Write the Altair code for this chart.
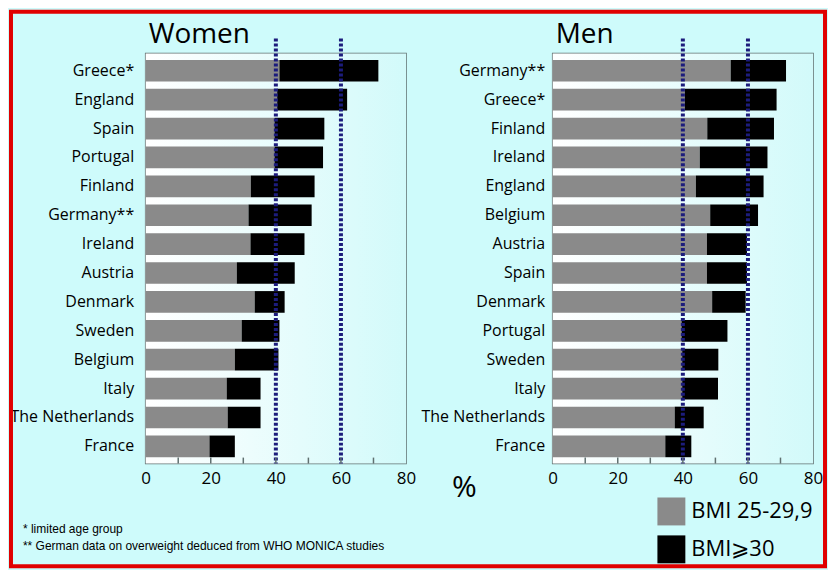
import altair as alt
import pandas as pd

# ---- data ----
countries_w = ["Greece*", "England", "Spain", "Portugal", "Finland", "Germany**", "Ireland",
               "Austria", "Denmark", "Sweden", "Belgium", "Italy", "The Netherlands", "France"]
bmi25_w = [41.1, 40.4, 39.6, 39.6, 32.3, 31.6, 32.2, 28.0, 33.5, 29.5, 27.4, 24.9, 25.2, 19.6]
total_w = [71.5, 61.9, 54.9, 54.5, 51.9, 51.0, 48.8, 45.8, 42.7, 41.1, 40.8, 35.3, 35.3, 27.4]

countries_m = ["Germany**", "Greece*", "Finland", "Ireland", "England", "Belgium", "Austria",
               "Spain", "Denmark", "Portugal", "Sweden", "Italy", "The Netherlands", "France"]
bmi25_m = [54.7, 40.6, 47.5, 45.2, 44.0, 48.4, 47.4, 47.4, 49.0, 39.6, 39.8, 39.8, 37.5, 34.6]
total_m = [71.7, 68.8, 68.0, 66.0, 64.8, 63.1, 59.7, 59.7, 59.3, 53.7, 50.9, 50.8, 46.4, 42.6]

categories = ["BMI 25-29,9", "BMI\u2a7e30"]
colors = ["#8a8a8a", "#000000"]
ref_lines = [40, 60]
minor_ticks = [10, 20, 30, 40, 50, 60, 70]
axis_values = [0, 20, 40, 60, 80]
titles = ["Women", "Men"]
pct_label = "%"
footnotes = ["* limited age group",
             "** German data on overweight deduced from WHO MONICA studies"]

FONT = "Open Sans"
W, H = 261, 411
FRAME = "#607070"

plot_fill = alt.Gradient(gradient="linear",
                         stops=[alt.GradientStop(offset=0, color="#ffffff"),
                                alt.GradientStop(offset=1, color="#d2fafa")],
                         x1=0, x2=1, y1=0, y2=0)


def long_table(countries, g, t):
    rows = []
    for c, a, b in zip(countries, g, t):
        rows.append({"country": c, "cat": categories[0], "value": a, "order": 0})
        rows.append({"country": c, "cat": categories[1], "value": round(b - a, 1), "order": 1})
    return pd.DataFrame(rows)


def text_layer(txt, x, y, size, font, align="left"):
    return alt.Chart(pd.DataFrame({"t": [txt]})).mark_text(
        align=align, baseline="alphabetic", fontSize=size, font=font, color="black"
    ).encode(text="t:N", x=alt.value(x), y=alt.value(y))


def panel(df, countries, title, label_pad, women):
    xscale = alt.Scale(domain=[0, 80], nice=False, zero=True)
    xaxis = alt.Axis(values=axis_values, ticks=False, domain=False, grid=False,
                     labelFontSize=17, labelFont=FONT, labelColor="black", labelPadding=7,
                     labelFlush=False,
                     title=pct_label if women else "",
                     titleFontSize=30, titleFont=FONT, titleFontWeight="normal",
                     titleColor="black", titleX=319, titleY=24,
                     titleAlign="center", titleBaseline="middle")
    bg = alt.Chart(pd.DataFrame({"a": [0]})).mark_rect(color=plot_fill).encode(
        x=alt.value(0), x2=alt.value(W), y=alt.value(0), y2=alt.value(H))
    bars = alt.Chart(df).mark_bar().encode(
        x=alt.X("value:Q", stack="zero", scale=xscale, axis=xaxis),
        y=alt.Y("country:N", sort=countries,
                scale=alt.Scale(paddingInner=0.25, paddingOuter=0.22),
                axis=alt.Axis(title=None, ticks=False, domain=False, labelFontSize=16,
                              labelFont=FONT, labelColor="black", labelPadding=label_pad)),
        color=alt.Color("cat:N", scale=alt.Scale(domain=categories, range=colors),
                        legend=alt.Legend(title=None, orient="none", legendX=513, legendY=445,
                                          symbolType="square", symbolSize=784,
                                          symbolStrokeWidth=0, symbolOpacity=1,
                                          labelFontSize=22, labelFont=FONT,
                                          labelColor="black", labelOffset=6,
                                          rowPadding=10, padding=0)),
        order=alt.Order("order:Q"),
    )
    rules = alt.Chart(pd.DataFrame({"v": ref_lines})).mark_rule(
        color="#1c1c7c", strokeWidth=4, strokeDash=[3, 2]
    ).encode(x=alt.X("v:Q", scale=xscale, axis=xaxis), y=alt.value(-15), y2=alt.value(H))
    ticks = alt.Chart(pd.DataFrame({"t": minor_ticks})).mark_rule(
        color=FRAME, strokeWidth=1.5
    ).encode(x=alt.X("t:Q", scale=xscale, axis=xaxis), y=alt.value(H - 6), y2=alt.value(H))
    head = text_layer(title, 3, -11, 28, FONT)
    if women:
        frame = alt.Chart(pd.DataFrame({"a": [0]})).mark_rect(
            stroke="#e00000", strokeWidth=4, fillOpacity=0, color="#e00000"
        ).encode(x=alt.value(-135), x2=alt.value(681), y=alt.value(-42), y2=alt.value(514))
        fn1 = text_layer(footnotes[0], -123, 481, 12, "Liberation Sans Narrow, Liberation Sans")
        fn2 = text_layer(footnotes[1], -123, 498, 12, "Liberation Sans Narrow, Liberation Sans")
        layers = [frame, bg, bars, rules, ticks, head, fn1, fn2]
    else:
        layers = [bg, bars, rules, ticks, head]
    return alt.layer(*layers).properties(width=W, height=H)


women = panel(long_table(countries_w, bmi25_w, total_w), countries_w, titles[0], 12, True)
men = panel(long_table(countries_m, bmi25_m, total_m), countries_m, titles[1], 8, False)

chart = alt.hconcat(women, men, spacing=147, bounds="flush").properties(
    padding=0, background="#cefbfb"
).configure_view(stroke=FRAME, strokeWidth=1.5)

chart.save("out.html", embed_options={"renderer": "svg", "actions": False})
